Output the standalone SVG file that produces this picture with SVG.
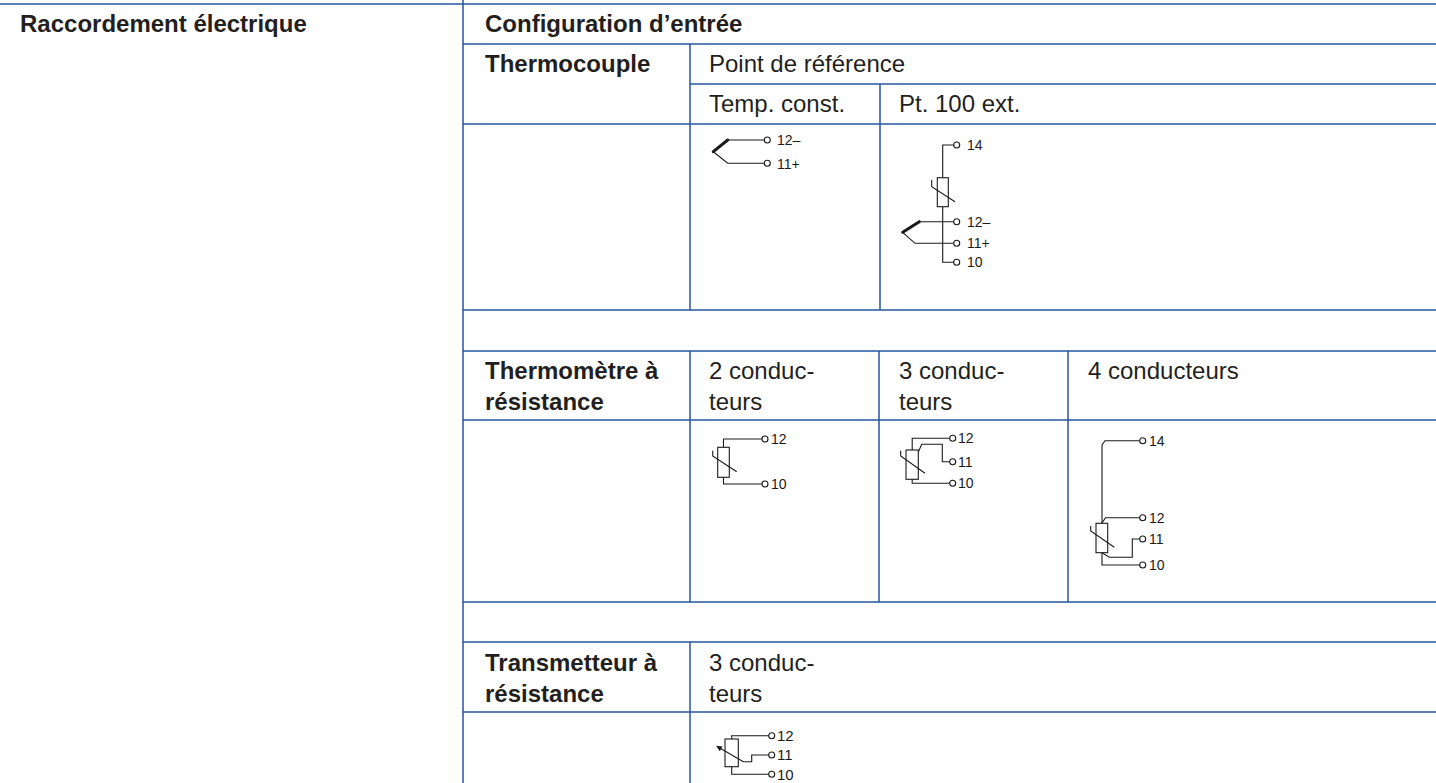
<svg xmlns="http://www.w3.org/2000/svg" width="1436" height="783" viewBox="0 0 1436 783">
<style>
.grid{stroke:#2555a0;stroke-width:1.5;fill:none}
.b{font-family:"Liberation Sans",Arial,sans-serif;font-weight:bold;font-size:24px;fill:#231f20}
.r{font-family:"Liberation Sans",Arial,sans-serif;font-size:24px;fill:#231f20}
.w{stroke:#1a1a1a;stroke-width:1.1;fill:none}
.thick{stroke:#1a1a1a;stroke-width:3;fill:none;stroke-linecap:round}
.box{stroke:#1a1a1a;stroke-width:1.1;fill:#fff}
.c{stroke:#1a1a1a;stroke-width:1.1;fill:#fff}
.l{font-family:"Liberation Sans",Arial,sans-serif;font-size:14px;fill:#1a1a1a}
.l2{font-family:"Liberation Sans",Arial,sans-serif;font-size:15px;fill:#1a1a1a}
</style>
<rect width="1436" height="783" fill="#fff"/>
<g id="grid" class="grid">
<line x1="0" y1="4" x2="1436" y2="4"/>
<line x1="463" y1="0" x2="463" y2="783"/>
<line x1="463" y1="44" x2="1436" y2="44"/>
<line x1="690" y1="84" x2="1436" y2="84"/>
<line x1="463" y1="124" x2="1436" y2="124"/>
<line x1="690" y1="44" x2="690" y2="310"/>
<line x1="880" y1="84" x2="880" y2="310"/>
<line x1="463" y1="310" x2="1436" y2="310"/>
<line x1="463" y1="351" x2="1436" y2="351"/>
<line x1="463" y1="420" x2="1436" y2="420"/>
<line x1="690" y1="351" x2="690" y2="602"/>
<line x1="879" y1="351" x2="879" y2="602"/>
<line x1="1068" y1="351" x2="1068" y2="602"/>
<line x1="463" y1="602" x2="1436" y2="602"/>
<line x1="463" y1="642" x2="1436" y2="642"/>
<line x1="463" y1="712" x2="1436" y2="712"/>
<line x1="690" y1="642" x2="690" y2="783"/>
</g>
<g id="labels">
<text class="b" x="20" y="32">Raccordement électrique</text>
<text class="b" x="485" y="32">Configuration d’entrée</text>
<text class="b" x="485" y="72">Thermocouple</text>
<text class="r" x="709" y="72">Point de référence</text>
<text class="r" x="709" y="112">Temp. const.</text>
<text class="r" x="899" y="112">Pt. 100 ext.</text>
<text class="b" x="485" y="379">Thermomètre à</text>
<text class="b" x="485" y="410">résistance</text>
<text class="r" x="709" y="379">2 conduc-</text>
<text class="r" x="709" y="410">teurs</text>
<text class="r" x="899" y="379">3 conduc-</text>
<text class="r" x="899" y="410">teurs</text>
<text class="r" x="1088" y="379">4 conducteurs</text>
<text class="b" x="485" y="671">Transmetteur à</text>
<text class="b" x="485" y="702">résistance</text>
<text class="r" x="709" y="671">3 conduc-</text>
<text class="r" x="709" y="702">teurs</text>
</g>
<g id="tc-const">
<line class="thick" x1="713.3" y1="151.7" x2="727.7" y2="140"/>
<polyline class="w" points="727.7,140 764.3,140"/>
<polyline class="w" points="713.3,151.7 727.7,163.3 764.3,163.3"/>
<circle class="c" cx="767.3" cy="140" r="3"/>
<circle class="c" cx="767.3" cy="163.3" r="3"/>
<text class="l" x="777" y="145">12–</text>
<text class="l" x="777" y="168.5">11+</text>
</g>
<g id="tc-pt100">
<polyline class="w" points="953.7,145 942.7,145 942.7,262.3 953.7,262.3"/>
<rect class="box" x="937.3" y="177.7" width="11" height="29"/>
<polyline class="w" points="931.7,180 931.7,186.7 955,201.7"/>
<line class="thick" x1="902.7" y1="232.3" x2="919.3" y2="221.7"/>
<polyline class="w" points="919.3,221.7 953.7,221.7"/>
<polyline class="w" points="902.7,232.3 915,243.3 953.7,243.3"/>
<circle class="c" cx="956.7" cy="145" r="3"/>
<circle class="c" cx="956.7" cy="221.7" r="3"/>
<circle class="c" cx="956.7" cy="243.3" r="3"/>
<circle class="c" cx="956.7" cy="262.3" r="3"/>
<text class="l" x="967" y="150">14</text>
<text class="l" x="967" y="226.7">12–</text>
<text class="l" x="967" y="248.3">11+</text>
<text class="l" x="967" y="267.3">10</text>
</g>
<g id="rtd-2">
<polyline class="w" points="762,439 723.5,439 723.5,447.3"/>
<rect class="box" x="717.7" y="447.3" width="11.6" height="30"/>
<polyline class="w" points="723.5,477.3 723.5,484 762,484"/>
<polyline class="w" points="712.7,450.7 712.7,456 736.7,471.7"/>
<circle class="c" cx="765" cy="439" r="3"/>
<circle class="c" cx="765" cy="484" r="3"/>
<text class="l" x="771" y="444">12</text>
<text class="l" x="771" y="489">10</text>
</g>
<g id="rtd-3">
<polyline class="w" points="949.7,438.3 912.2,438.3 912.2,450"/>
<rect class="box" x="906" y="450" width="12.3" height="29.3"/>
<polyline class="w" points="918.3,452 921.7,444.3 942.3,444.3 942.3,461.7 949.7,461.7"/>
<polyline class="w" points="912.2,479.3 912.2,483.3 949.7,483.3"/>
<polyline class="w" points="900.7,450.7 900.7,456 925,473.3"/>
<circle class="c" cx="952.7" cy="438.3" r="3"/>
<circle class="c" cx="952.7" cy="461.7" r="3"/>
<circle class="c" cx="952.7" cy="483.3" r="3"/>
<text class="l" x="958" y="443.3">12</text>
<text class="l" x="958" y="466.7">11</text>
<text class="l" x="958" y="488.3">10</text>
</g>
<g id="rtd-4">
<polyline class="w" points="1139.7,440.7 1105,440.7 1102,445 1102,523.3"/>
<polyline class="w" points="1139.7,517.7 1105.5,517.7 1102,523"/>
<rect class="box" x="1096" y="523.3" width="11.7" height="29.4"/>
<polyline class="w" points="1139.7,539 1132.3,539 1132.3,557.3 1109.3,557.3 1102,552.7"/>
<polyline class="w" points="1102,552.7 1102,565 1139.7,565"/>
<polyline class="w" points="1090.7,526 1090.7,531 1114.3,547.3"/>
<circle class="c" cx="1142.7" cy="440.7" r="3"/>
<circle class="c" cx="1142.7" cy="517.7" r="3"/>
<circle class="c" cx="1142.7" cy="539" r="3"/>
<circle class="c" cx="1142.7" cy="565" r="3"/>
<text class="l" x="1149" y="445.7">14</text>
<text class="l" x="1149" y="522.7">12</text>
<text class="l" x="1149" y="544">11</text>
<text class="l" x="1149" y="570">10</text>
</g>
<g id="pot-3">
<polyline class="w" points="768.7,735.7 731.7,735.7 731.7,739"/>
<rect class="box" x="725" y="739" width="13.3" height="27.7"/>
<polyline class="w" points="731.7,766.7 731.7,774.3 768.7,774.3"/>
<polyline class="w" points="768.7,755 751.7,755 751.7,761.7 743.3,761.7 719,747.5"/>
<polygon points="716,745.7 722.5,746.6 719.8,751.2" fill="#1a1a1a"/>
<circle class="c" cx="771.7" cy="735.7" r="3"/>
<circle class="c" cx="771.7" cy="755" r="3"/>
<circle class="c" cx="771.7" cy="774.3" r="3"/>
<text class="l2" x="777" y="741">12</text>
<text class="l2" x="777" y="760.3">11</text>
<text class="l2" x="777" y="779.6">10</text>
</g>
</svg>
